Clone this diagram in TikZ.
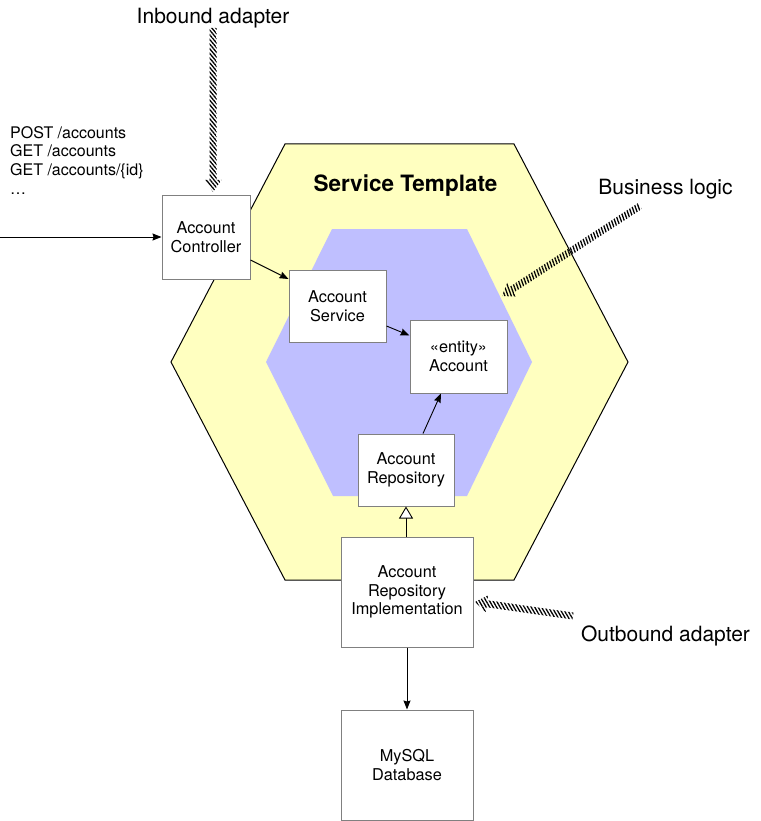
\documentclass[tikz,border=0pt]{standalone}
\usepackage{fontspec}
\setmainfont{TeX Gyre Heros}
\usetikzlibrary{calc,arrows.meta,patterns.meta}
\definecolor{hexyellow}{RGB}{255,255,192}
\definecolor{hexpurple}{RGB}{191,191,255}
\definecolor{boxgray}{RGB}{128,128,128}
\tikzset{
  box/.style={draw=boxgray, line width=1pt, fill=white, align=center, inner sep=0pt,
    font=\fontsize{16.3}{18.7}\selectfont},
  lbl/.style={font=\fontsize{21}{24}\selectfont, inner sep=0pt},
  conn/.style={line width=0.9pt, -{Stealth[length=9pt,width=7pt,inset=1pt]}},
  hatch/.style={pattern={Lines[angle=#1,distance=3pt,line width=1.3pt]}, pattern color=black},
}
\newcommand{\hatcharrow}[3]{%
  \coordinate (hA) at (#1);
  \coordinate (hB) at (#2);
  \coordinate (hH) at ($(hB)!12pt!(hA)$);
  \fill[hatch=#3] ($(hA)!3.5pt!90:(hB)$) -- ($(hH)!3.5pt!90:(hB)$) -- ($(hH)!8.5pt!90:(hB)$)
    -- (hB) -- ($(hH)!8.5pt!-90:(hB)$) -- ($(hH)!3.5pt!-90:(hB)$) -- ($(hA)!3.5pt!-90:(hB)$) -- cycle;
}
\begin{document}
\begin{tikzpicture}[x=1pt,y=-1pt]
\useasboundingbox (0,0) rectangle (760,821);
% hexagons
\filldraw[fill=hexyellow, draw=black, line width=1pt]
  (285,144) -- (514,144) -- (628,362) -- (514,580) -- (285,580) -- (171,362) -- cycle;
\fill[hexpurple]
  (332,229) -- (467,229) -- (532,362) -- (467,496) -- (333,496) -- (266,362) -- cycle;
\node[font=\bfseries\fontsize{22.5}{26}\selectfont, inner sep=0pt] (title) at (405.5,186) {Service Template};

% boxes
\node[box, minimum width=88pt, minimum height=84pt] (ctrl) at (206,237) {Account\\Controller};
\node[box, minimum width=97pt, minimum height=72pt] (svc) at (337.5,306) {Account\\Service};
\node[box, minimum width=97pt, minimum height=73pt] (ent) at (458.5,356.5) {«entity»\\Account};
\node[box, minimum width=96pt, minimum height=72pt] (repo) at (406,470) {Account\\Repository};
\node[box, minimum width=132pt, minimum height=110pt] (impl) at (407,592) {Account\\Repository\\Implementation};
\node[box, minimum width=132pt, minimum height=110pt] (db) at (407,765) {MySQL\\Database};

% request list
\node[font=\fontsize{16}{18.7}\selectfont, align=left, anchor=north west, inner sep=0pt] (req) at (10,126)
  {POST /accounts\\GET /accounts\\GET /accounts/\{id\}\\…};

% connectors
\coordinate (in) at (0,237);
\draw[conn] (in) -- (ctrl.west);
\draw[conn] ([yshift=-23pt]ctrl.east) -- ([yshift=27pt]svc.west);
\draw[conn] ([yshift=-20pt]svc.east) -- ([yshift=21pt]ent.west);
\draw[conn] ([xshift=17pt]repo.north) -- ([xshift=-17.5pt]ent.south);
\draw[line width=0.9pt, -{Triangle[open,length=12pt,width=14pt,fill=white]}] (impl.north -| repo.south) -- (repo.south);
\draw[conn] (impl.south -| db.north) -- (db.north);

% labels
\node[lbl] (inb) at (213,18) {Inbound adapter};
\node[lbl] (biz) at (665.5,189) {Business logic};
\node[lbl] (outb) at (665.5,636) {Outbound adapter};

\coordinate (inbT) at (213,192);
\coordinate (bizT) at (502,296);
\coordinate (outbT) at (475,602);
\hatcharrow{inb.south |- 0,28}{inbT}{-50}
\hatcharrow{640,206}{bizT}{110}
\hatcharrow{573,616}{outbT}{-60}
\end{tikzpicture}
\end{document}
